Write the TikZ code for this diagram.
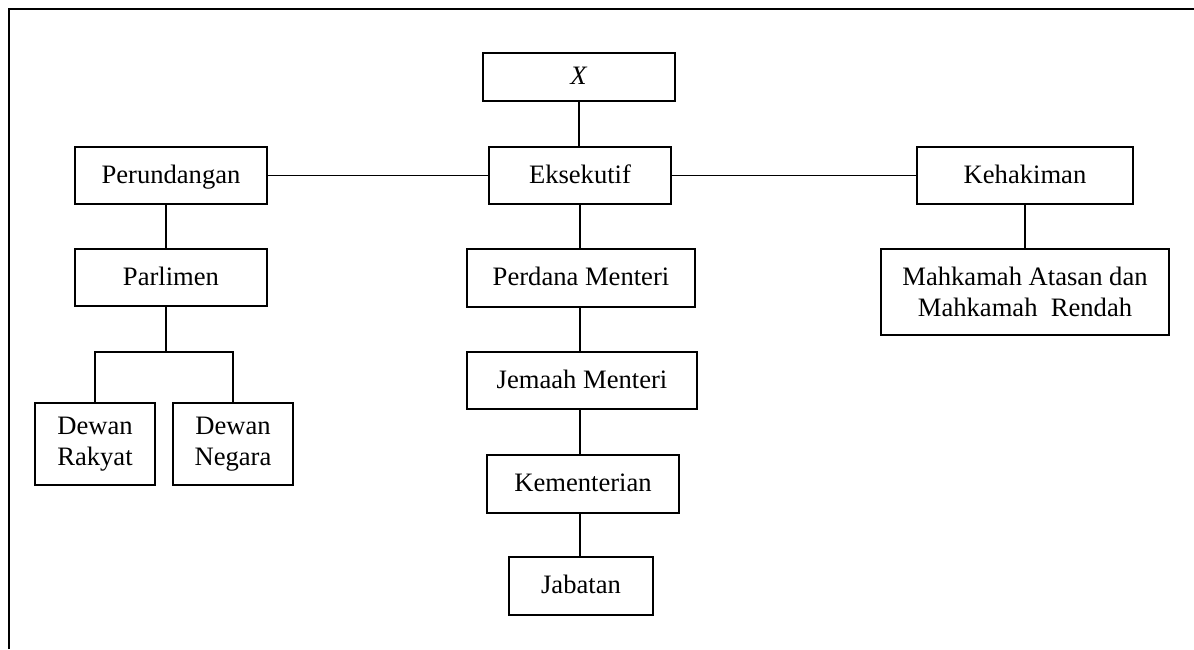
\documentclass[tikz,border=0pt]{standalone}
\usepackage{fontspec}
\setmainfont{Liberation Serif}
\begin{document}
\begin{tikzpicture}[x=0.5pt,y=-0.5pt,
  box/.style={draw, line width=0.9pt, inner sep=0pt, align=center,
    font=\fontsize{13.3}{15.8}\selectfont},
  oneline/.style={text height=10.5pt, text depth=3pt},
  link/.style={line width=0.9pt}]
\useasboundingbox (0,0) rectangle (1194,649);
\draw[line width=1.3pt] (9,649) -- (9,9) -- (1194,9);

\node[box, oneline, minimum width=96pt, minimum height=24pt] (X) at (579,77) {\textit{X}};
\node[box, oneline, minimum width=91pt, minimum height=28.5pt] (E) at (580,175.5) {Eksekutif};
\node[box, oneline, minimum width=96pt, minimum height=28.5pt] (Pr) at (171,175.5) {Perundangan};
\node[box, oneline, minimum width=96pt, minimum height=28.5pt] (Pa) at (171,277.5) {Parlimen};
\node[box, minimum width=60pt, minimum height=41pt] (DR) at (95,444) {Dewan\\Rakyat};
\node[box, minimum width=60pt, minimum height=41pt] (DN) at (233,444) {Dewan\\Negara};
\node[box, oneline, minimum width=108pt, minimum height=28.5pt] (K) at (1025,175.5) {Kehakiman};
\node[box, minimum width=144pt, minimum height=43pt] (M) at (1025,292) {Mahkamah Atasan dan\\Mahkamah\ \ Rendah};
\node[box, oneline, minimum width=114pt, minimum height=29pt] (PM) at (581,278) {Perdana Menteri};
\node[box, oneline, minimum width=115pt, minimum height=28.5pt] (JM) at (582,380.5) {Jemaah Menteri};
\node[box, oneline, minimum width=96pt, minimum height=29pt] (KM) at (583,484) {Kementerian};
\node[box, oneline, minimum width=72pt, minimum height=29pt] (JB) at (581,586) {Jabatan};

\coordinate (fork) at (166,352);

\draw[link] (X.south) -- (X.south |- E.north);
\draw[link] (Pr.east) -- (E.west);
\draw[link] (E.east) -- (K.west);
\draw[link] (K.south) -- (M.north);
\draw[link] (E.south) -- (E.south |- PM.north);
\draw[link] (E.south |- PM.south) -- (E.south |- JM.north);
\draw[link] (E.south |- JM.south) -- (E.south |- KM.north);
\draw[link] (E.south |- KM.south) -- (E.south |- JB.north);
\draw[link] ([xshift=-2.5pt]Pr.south) -- ([xshift=-2.5pt]Pa.north);
\draw[link] ([xshift=-2.5pt]Pa.south) -- (fork);
\draw[link] (DR.north) |- (fork) -| (DN.north);
\end{tikzpicture}
\end{document}
